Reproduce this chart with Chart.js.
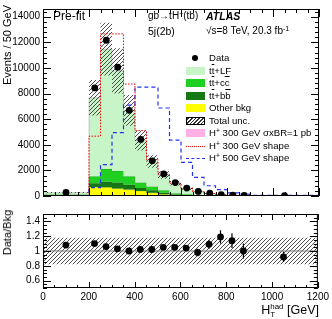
<!DOCTYPE html>
<html>
<head>
<meta charset="utf-8">
<script src="https://cdn.jsdelivr.net/npm/chart.js@4.4.0/dist/chart.umd.min.js"></script>
<style>
  body { margin: 0; background: #fff; font-family: "Liberation Sans", Arial, sans-serif; }
  #wrap { position: relative; width: 332px; height: 319px; overflow: hidden; }
  #wrap canvas { position: absolute; left: 0; }
  .t { position: absolute; white-space: nowrap; line-height: 1; color: #000; }
  .sp { font-size: 70%; position: relative; top: -0.45em; }
  .ov { text-decoration: overline; }
  .vt { position: absolute; writing-mode: vertical-rl; transform: rotate(180deg); white-space: nowrap; line-height: 1; font-size: 11px; }
  .leg { position: absolute; left: 186px; width: 140px; height: 12px; font-size: 9.6px; line-height: 12px; }
  .leg .box { position: absolute; left: 0; top: 2px; width: 19px; height: 8px; }
  .leg .lab { position: absolute; left: 23px; top: 0; white-space: nowrap; }
</style>
</head>
<body>
<div id="wrap">
  <canvas id="main" width="332" height="205" style="top:0"></canvas>
  <canvas id="ratio" width="332" height="114" style="top:205px"></canvas>

  <div class="t" style="left:53px;top:10px;font-size:12px">Pre-fit</div>
  <div class="t" style="left:148px;top:11px;font-size:10px">gb→tH<span class="sp">+</span>(tb)</div>
  <div class="t" style="left:206px;top:11px;font-size:10.5px;font-weight:bold;font-style:italic">ATLAS</div>
  <div class="t" style="left:148px;top:26px;font-size:10.5px">5j(2b)</div>
  <div class="t" style="left:206px;top:26px;font-size:10px">√s=8 TeV, 20.3 fb<span class="sp">-1</span></div>

  <div class="leg" style="top:52px"><span class="box" style="background:none"><span style="position:absolute;left:6px;top:1px;width:6px;height:6px;border-radius:50%;background:#000"></span></span><span class="lab">Data</span></div>
  <div class="leg" style="top:65px"><span class="box" style="background:#c8f5c8"></span><span class="lab">t<span class="ov">t</span>+LF</span></div>
  <div class="leg" style="top:77px"><span class="box" style="background:#20d020"></span><span class="lab">t<span class="ov">t</span>+c<span class="ov">c</span></span></div>
  <div class="leg" style="top:90px"><span class="box" style="background:#157815"></span><span class="lab">t<span class="ov">t</span>+b<span class="ov">b</span></span></div>
  <div class="leg" style="top:102px"><span class="box" style="background:#ffff00"></span><span class="lab">Other bkg</span></div>
  <div class="leg" style="top:115px"><span class="box" style="box-sizing:border-box;border:1px solid #000;background:repeating-linear-gradient(-45deg,#fff 0 1.6px,#333 1.6px 2.6px)"></span><span class="lab">Total unc.</span></div>
  <div class="leg" style="top:127px"><span class="box" style="background:#ffb0e6"></span><span class="lab">H<span class="sp">+</span> 300 GeV σxBR=1 pb</span></div>
  <div class="leg" style="top:140px"><span class="box" style="height:0;top:6px;border-top:1.2px dotted #ff0000"></span><span class="lab">H<span class="sp">+</span> 300 GeV shape</span></div>
  <div class="leg" style="top:152px"><span class="box" style="height:0;top:6px;border-top:1.3px dashed #2233ee"></span><span class="lab">H<span class="sp">+</span> 500 GeV shape</span></div>

  <div class="vt" style="left:2px;top:5px">Events / 50 GeV</div>
  <div class="vt" style="left:2px;top:210px">Data/Bkg</div>
  <div class="t" style="right:13px;top:303px;font-size:12.5px">H<span style="display:inline-block;vertical-align:-3px;font-size:8px;line-height:8px;text-align:left"><span style="display:block">had</span><span style="display:block">T</span></span> [GeV]</div>
</div>

<script>
// bins in GeV (first and last bins are wide, normalised per 50 GeV)
const binEdges = [0, 200, 250, 300, 350, 400, 450, 500, 550, 600, 650, 700, 750, 800, 850, 900, 1200];
const binCenters = [100, 225, 275, 325, 375, 425, 475, 525, 575, 625, 675, 725, 775, 825, 875, 1050];

const dataEvents = [280, 8440, 12160, 10060, 6690, 4420, 2750, 1720, 1050, 620, 360, 220, 110, 70, 50, 30];
const otherBkg   = [60, 700, 680, 580, 500, 400, 250, 130, 60, 40, 25, 14, 7, 5, 4, 3];
const ttbb       = [20, 300, 440, 470, 370, 220, 200, 120, 60, 35, 20, 10, 5, 3, 2, 1];
const ttcc       = [30, 550, 1000, 900, 680, 430, 300, 200, 100, 60, 35, 18, 8, 5, 4, 3];
const ttLF       = [150, 6120, 9350, 7820, 5140, 3280, 1950, 1190, 780, 465, 287, 160, 72, 48, 40, 26];
const hp300Shape = [30, 4670, 12660, 12660, 8740, 5100, 2850, 1700, 1000, 600, 360, 200, 95, 60, 45, 30];
const hp500Shape = [20, 650, 2450, 4950, 7100, 8500, 8500, 6870, 4370, 2620, 1450, 800, 500, 250, 150, 60];
const totalUnc   = [0.18, 0.18, 0.18, 0.18, 0.18, 0.18, 0.18, 0.18, 0.18, 0.18, 0.18, 0.18, 0.18, 0.18, 0.18, 0.18];

const ratioVals = [1.08, 1.10, 1.06, 1.03, 1.00, 1.02, 1.02, 1.05, 1.05, 1.04, 0.98, 1.09, 1.19, 1.14, 1.00, 0.92];
const ratioErr  = [0.02, 0.01, 0.01, 0.01, 0.01, 0.015, 0.02, 0.025, 0.03, 0.04, 0.05, 0.06, 0.09, 0.10, 0.10, 0.07];

const eventTicks = [0, 2000, 4000, 6000, 8000, 10000, 12000, 14000];
const ratioTicks = [0.6, 0.8, 1, 1.2, 1.4];
const xTicks = [0, 200, 400, 600, 800, 1000, 1200];

Chart.defaults.font.family = "'Liberation Sans', Arial, sans-serif";
Chart.defaults.font.size = 10;
Chart.defaults.color = '#000';

/* histogram as step points: value held from left edge to next edge */
function steps(vals) {
  const pts = vals.map((v, i) => ({ x: binEdges[i], y: v }));
  pts.push({ x: binEdges[binEdges.length - 1], y: vals[vals.length - 1] });
  return pts;
}
function addUp(...arrs) {
  return arrs[0].map((_, i) => arrs.reduce((s, a) => s + a[i], 0));
}

function hatch() {
  const c = document.createElement('canvas');
  c.width = 4; c.height = 4;
  const g = c.getContext('2d');
  g.strokeStyle = '#222';
  g.lineWidth = 0.8;
  g.beginPath();
  g.moveTo(0, 4); g.lineTo(4, 0);
  g.moveTo(-1, 1); g.lineTo(1, -1);
  g.moveTo(3, 5); g.lineTo(5, 3);
  g.stroke();
  return g.createPattern(c, 'repeat');
}
const hatchPat = hatch();

/* frame + inward ROOT style ticks */
const rootAxes = {
  id: 'rootAxes',
  afterDatasetsDraw(chart, args, o) {
    const { ctx, chartArea: a } = chart;
    const x = chart.scales.x, y = chart.scales.y;
    ctx.save();
    ctx.strokeStyle = '#000';
    ctx.lineWidth = 1;
    ctx.beginPath();
    for (let k = 0; k <= o.xN; k++) {
      const px = Math.round(x.getPixelForValue(o.xMin + k * o.xStep)) + 0.5;
      const len = k % o.xEvery === 0 ? o.xLen : o.xLen / 2;
      ctx.moveTo(px, a.bottom); ctx.lineTo(px, a.bottom - len);
      ctx.moveTo(px, a.top); ctx.lineTo(px, a.top + len);
    }
    for (let k = 0; k <= o.yN; k++) {
      const py = Math.round(y.getPixelForValue(o.yMin + k * o.yStep)) + 0.5;
      const len = (k - o.yFirst) % o.yEvery === 0 ? o.yLen : o.yLen / 2;
      ctx.moveTo(a.left, py); ctx.lineTo(a.left + len, py);
      ctx.moveTo(a.right, py); ctx.lineTo(a.right - len, py);
    }
    ctx.stroke();
    ctx.strokeRect(a.left + 0.5, a.top + 0.5, a.right - a.left - 1, a.bottom - a.top - 1);
    ctx.restore();
  }
};

/* vertical error bars for the ratio points */
const errBars = {
  id: 'errBars',
  afterDatasetsDraw(chart, args, o) {
    if (!o.vals) return;
    const { ctx } = chart;
    const x = chart.scales.x, y = chart.scales.y;
    ctx.save();
    ctx.strokeStyle = '#000';
    ctx.lineWidth = 1.2;
    ctx.beginPath();
    o.vals.forEach((v, i) => {
      const px = x.getPixelForValue(o.xs[i]);
      ctx.moveTo(px, y.getPixelForValue(v - o.errs[i]));
      ctx.lineTo(px, y.getPixelForValue(v + o.errs[i]));
    });
    ctx.stroke();
    ctx.restore();
  }
};

const cum1 = otherBkg;
const cum2 = addUp(otherBkg, ttbb);
const cum3 = addUp(otherBkg, ttbb, ttcc);
const cum4 = addUp(otherBkg, ttbb, ttcc, ttLF);
const uncHi = cum4.map((v, i) => v * (1 + totalUnc[i]));
const uncLo = cum4.map((v, i) => v * (1 - totalUnc[i]));

function histSet(vals, color, fill, order) {
  return {
    data: steps(vals), stepped: true, fill: fill, backgroundColor: color,
    borderColor: 'rgba(0,0,0,0.35)', borderWidth: 0.5, pointRadius: 0, order: order
  };
}

new Chart(document.getElementById('main'), {
  type: 'line',
  data: {
    datasets: [
      histSet(cum1, '#ffff00', 'origin', 20),
      histSet(cum2, '#157815', '-1', 19),
      histSet(cum3, '#20d020', '-1', 18),
      histSet(cum4, '#c8f5c8', '-1', 17),
      { data: steps(uncHi), stepped: true, fill: '+1', backgroundColor: hatchPat, borderWidth: 0, pointRadius: 0, order: 10 },
      { data: steps(uncLo), stepped: true, fill: false, borderWidth: 0, pointRadius: 0, order: 11 },
      { data: steps(hp500Shape), stepped: true, fill: false, borderColor: '#2233ee', borderWidth: 1.2, borderDash: [4, 3], pointRadius: 0, order: 5 },
      { data: steps(hp300Shape), stepped: true, fill: false, borderColor: '#ff0000', borderWidth: 1, borderDash: [1.5, 1.5], pointRadius: 0, order: 4 },
      { data: binCenters.map((c, i) => ({ x: c, y: dataEvents[i] })), showLine: false, pointRadius: 3.4, pointBackgroundColor: '#000', pointBorderWidth: 0, order: 1 }
    ]
  },
  options: {
    responsive: false, animation: false, events: [],
    layout: { padding: { top: 5, right: 13, bottom: 5, left: 0 } },
    plugins: {
      legend: { display: false }, tooltip: { enabled: false },
      rootAxes: { xMin: 0, xStep: 50, xN: 24, xEvery: 4, xLen: 8, yMin: 0, yStep: 400, yN: 36, yFirst: 0, yEvery: 5, yLen: 8 }
    },
    scales: {
      x: { type: 'linear', min: 0, max: 1200, display: false },
      y: {
        min: 0, max: 14600,
        grid: { display: false, drawTicks: false }, border: { display: false },
        ticks: { padding: 3, font: { size: 10 }, callback: v => String(v) },
        afterBuildTicks: s => { s.ticks = eventTicks.map(v => ({ value: v })); },
        afterFit: s => { s.width = 43; }
      }
    }
  },
  plugins: [rootAxes]
});

new Chart(document.getElementById('ratio'), {
  type: 'line',
  data: {
    datasets: [
      { data: [{ x: 0, y: 1 }, { x: 1200, y: 1 }], borderColor: '#777', borderWidth: 1, pointRadius: 0, fill: false, order: 3 },
      { data: [{ x: 0, y: 1.18 }, { x: 1200, y: 1.18 }], fill: '+1', backgroundColor: hatchPat, borderWidth: 0, pointRadius: 0, order: 5 },
      { data: [{ x: 0, y: 0.82 }, { x: 1200, y: 0.82 }], fill: false, borderWidth: 0, pointRadius: 0, order: 6 },
      { data: binCenters.map((c, i) => ({ x: c, y: ratioVals[i] })), showLine: false, pointRadius: 3.4, pointBackgroundColor: '#000', pointBorderWidth: 0, order: 1 }
    ]
  },
  options: {
    responsive: false, animation: false, events: [],
    layout: { padding: { top: 5, right: 13, bottom: 11, left: 0 } },
    plugins: {
      legend: { display: false }, tooltip: { enabled: false },
      rootAxes: { xMin: 0, xStep: 50, xN: 24, xEvery: 4, xLen: 6, yMin: 0.5, yStep: 0.05, yN: 20, yFirst: 2, yEvery: 4, yLen: 8 },
      errBars: { vals: ratioVals, errs: ratioErr, xs: binCenters }
    },
    scales: {
      x: {
        type: 'linear', min: 0, max: 1200,
        grid: { display: false, drawTicks: false }, border: { display: false },
        ticks: { padding: 3, font: { size: 10 }, maxRotation: 0, callback: v => String(v) },
        afterBuildTicks: s => { s.ticks = xTicks.map(v => ({ value: v })); },
        afterFit: s => { s.height = 20; }
      },
      y: {
        min: 0.5, max: 1.5,
        grid: { display: false, drawTicks: false }, border: { display: false },
        ticks: { padding: 3, font: { size: 10 }, callback: v => String(+v.toFixed(1)) },
        afterBuildTicks: s => { s.ticks = ratioTicks.map(v => ({ value: v })); },
        afterFit: s => { s.width = 43; }
      }
    }
  },
  plugins: [rootAxes, errBars]
});
</script>
</body>
</html>
